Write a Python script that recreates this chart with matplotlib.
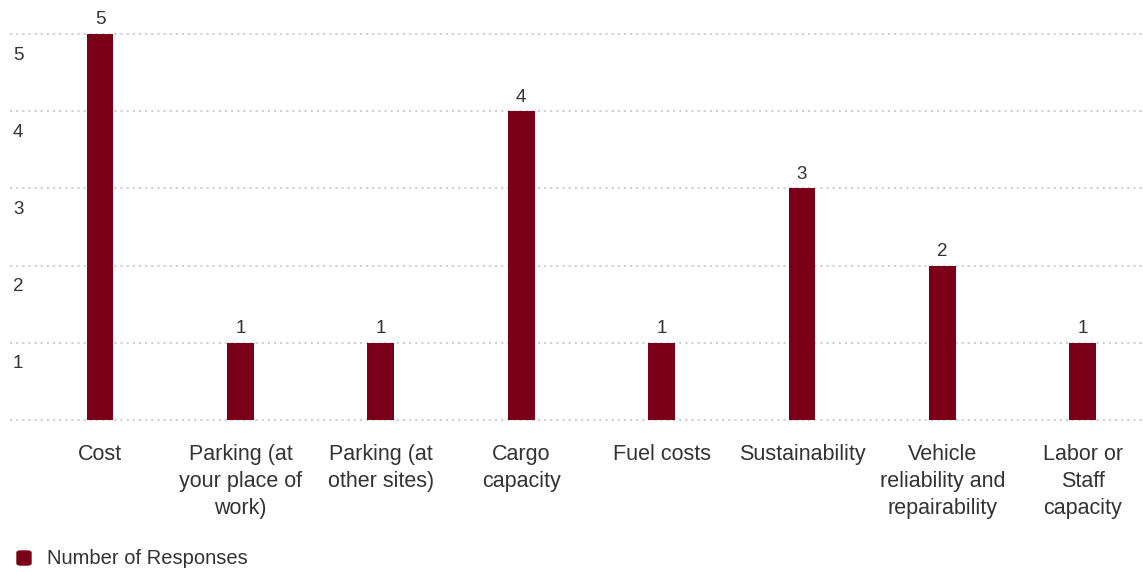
import matplotlib
matplotlib.use("Agg")
import matplotlib.pyplot as plt
from matplotlib.transforms import offset_copy

categories = ["Cost", "Parking (at\nyour place of\nwork)", "Parking (at\nother sites)",
              "Cargo\ncapacity", "Fuel costs", "Sustainability",
              "Vehicle\nreliability and\nrepairability", "Labor or\nStaff\ncapacity"]
values = [5, 1, 1, 4, 1, 3, 2, 1]
yticks = [1, 2, 3, 4, 5]
series_name = "Number of Responses"

bar_color = "#7a0019"
text_color = "#333333"
plt.rcParams['font.family'] = ['Liberation Sans', 'DejaVu Sans']

W, H = 1143, 572
fig = plt.figure(figsize=(W / 100, H / 100), dpi=100)
left_px, right_px = 10, 1143
top_px, bot_px = 34, 420
ax = fig.add_axes([left_px / W, 1 - bot_px / H, (right_px - left_px) / W, (bot_px - top_px) / H])

x = list(range(len(categories)))
ax.bar(x, values, width=0.19, color=bar_color, zorder=3)
ax.set_xlim(-0.641, 7.429)
ax.set_ylim(0, 5)

for s in ax.spines.values():
    s.set_visible(False)
ax.set_xticks([])
ax.set_yticks([])

for yv in [0] + yticks:
    ax.axhline(yv, color="#cccccc", linestyle=(0, (1.2, 2.2)), linewidth=1.3, zorder=1, clip_on=False)

trans_y = offset_copy(ax.get_yaxis_transform(), fig=fig, x=3, y=-21, units="dots")
for yv in yticks:
    ax.text(0, yv, str(yv), transform=trans_y, ha="left", va="center",
            fontsize=13.5, color=text_color)

trans_v = offset_copy(ax.transData, fig=fig, x=0, y=14, units="dots")
for xi, v in zip(x, values):
    ax.text(xi, v, str(v), transform=trans_v, ha="center", va="center",
            fontsize=13.5, color=text_color, clip_on=False)

trans_c = offset_copy(ax.get_xaxis_transform(), fig=fig, x=0, y=-24, units="dots")
for xi, c in zip(x, categories):
    ax.text(xi, 0, c, transform=trans_c, ha="center", va="top",
            fontsize=15.5, color=text_color, linespacing=1.37)

# legend
fig.patches.append(matplotlib.patches.FancyBboxPatch(
    (17 / W, 1 - 565 / H), 14 / W, 14 / H, boxstyle="round,pad=0,rounding_size=0.003",
    transform=fig.transFigure, color=bar_color))
fig.text(47 / W, 1 - 558 / H, series_name, ha="left", va="center", fontsize=14.5, color=text_color)

fig.savefig("out.png", dpi=100)
